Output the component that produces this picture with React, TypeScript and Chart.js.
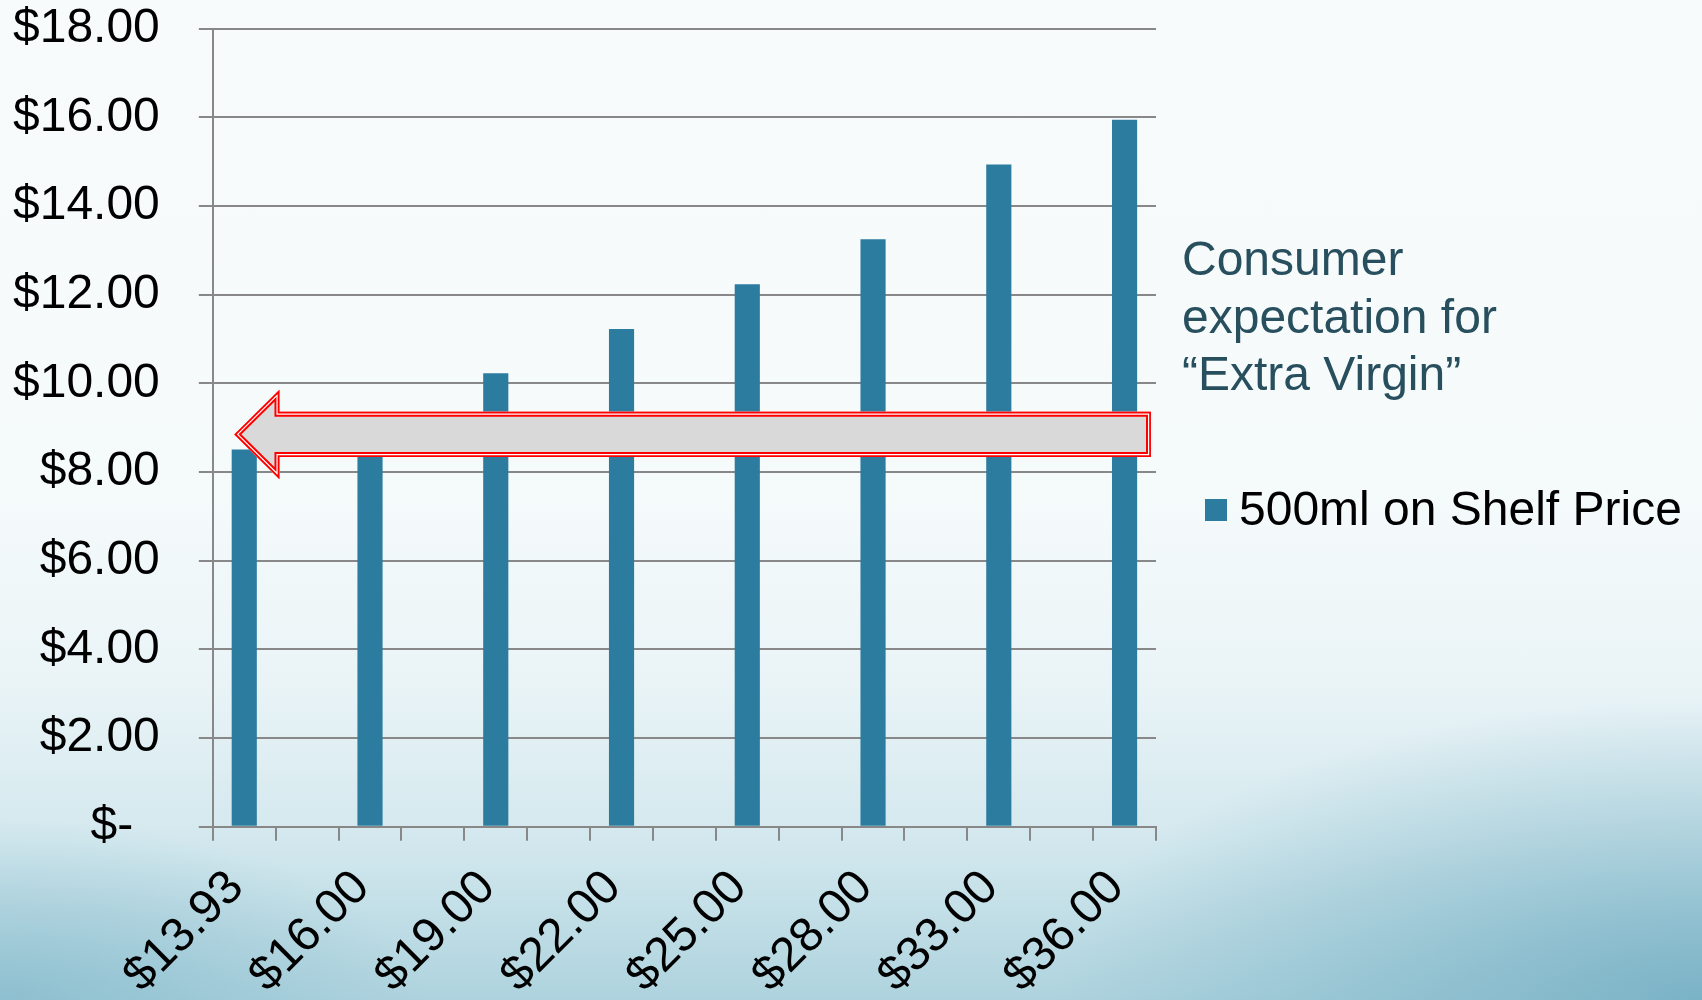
import React, { useEffect, useRef } from "react";
import { Chart, registerables } from "chart.js";

Chart.register(...registerables);

// ---- data ----
const categories = [
  "$13.93", "", "$16.00", "", "$19.00", "", "$22.00", "", "$25.00", "", "$28.00", "", "$33.00", "", "$36.00",
];
const shelfPrice = [
  8.51, null, 9.2, null, 10.23, null, 11.23, null, 12.24, null, 13.25, null, 14.94, null, 15.95,
];
const seriesName = "500ml on Shelf Price";
const noteLines = ["Consumer", "expectation for", "\u201CExtra Virgin\u201D"];
const yMin = 0;
const yMax = 18;
const yStep = 2;

// arrow annotation (category index / dollar units)
const arrowTipIndex = -0.16;
const arrowHeadIndex = 0.56;
const arrowEndIndex = 14.42;
const arrowCenterValue = 8.85;
const arrowBodyHalf = 0.51;
const arrowHeadHalf = 1.01;

const BAR_COLOR = "#2c7ca0";
const GRID_COLOR = "#888888";
const FONT = "'Liberation Sans', Arial, Helvetica, sans-serif";
const Y_TICK_PAD = 39;
const X_TICK_PAD = 19;
const X_AXIS_HEIGHT = 170.3;

const overlayPlugin = {
  id: "overlayPlugin",
  afterDatasetsDraw(chart: any) {
    const { ctx } = chart;
    const xs = chart.scales.x;
    const ys = chart.scales.y;
    const px = (i: number) => xs.getPixelForValue(i);
    const py = (v: number) => ys.getPixelForValue(v);
    ctx.save();
    ctx.beginPath();
    ctx.moveTo(px(arrowTipIndex), py(arrowCenterValue));
    ctx.lineTo(px(arrowHeadIndex), py(arrowCenterValue + arrowHeadHalf));
    ctx.lineTo(px(arrowHeadIndex), py(arrowCenterValue + arrowBodyHalf));
    ctx.lineTo(px(arrowEndIndex), py(arrowCenterValue + arrowBodyHalf));
    ctx.lineTo(px(arrowEndIndex), py(arrowCenterValue - arrowBodyHalf));
    ctx.lineTo(px(arrowHeadIndex), py(arrowCenterValue - arrowBodyHalf));
    ctx.lineTo(px(arrowHeadIndex), py(arrowCenterValue - arrowHeadHalf));
    ctx.closePath();
    ctx.fillStyle = "#d9d9d9";
    ctx.fill();
    ctx.clip();
    ctx.lineJoin = "miter";
    ctx.miterLimit = 10;
    ctx.strokeStyle = "#ff0000";
    ctx.lineWidth = 10;
    ctx.stroke();
    ctx.strokeStyle = "#ffffff";
    ctx.lineWidth = 6;
    ctx.stroke();
    ctx.strokeStyle = "#ff0000";
    ctx.lineWidth = 3.6;
    ctx.stroke();
    ctx.restore();
  },
  afterDraw(chart: any) {
    const { ctx, chartArea } = chart;
    const r = chartArea.right;
    ctx.save();
    ctx.font = `48px ${FONT}`;
    ctx.textAlign = "left";
    ctx.textBaseline = "alphabetic";
    ctx.fillStyle = "#284f5e";
    noteLines.forEach((line, i) => {
      ctx.fillText(line, r + 26, 275 + i * 57.6);
    });
    ctx.fillStyle = BAR_COLOR;
    ctx.fillRect(r + 49, 499, 22, 22);
    ctx.fillStyle = "#000000";
    ctx.fillText(seriesName, r + 83, 525);
    ctx.restore();
  },
};

export default function App() {
  const canvasRef = useRef<HTMLCanvasElement | null>(null);

  useEffect(() => {
    document.body.style.margin = "0";
    const canvas = canvasRef.current;
    if (!canvas) return;
    const chart = new Chart(canvas, {
      type: "bar",
      data: {
        labels: categories,
        datasets: [
          {
            label: seriesName,
            data: shelfPrice as any,
            backgroundColor: BAR_COLOR,
            borderWidth: 0,
            barPercentage: 0.4,
            categoryPercentage: 1,
          },
        ],
      },
      options: {
        animation: false,
        responsive: true,
        maintainAspectRatio: false,
        layout: { padding: { left: 13, right: 546, top: 0, bottom: 3 } },
        plugins: {
          legend: { display: false },
          tooltip: { enabled: false },
        },
        scales: {
          x: {
            offset: true,
            grid: {
              display: true,
              offset: true,
              drawOnChartArea: false,
              drawTicks: true,
              tickLength: 14,
              color: GRID_COLOR,
              lineWidth: 2,
            },
            border: { display: true, color: GRID_COLOR, width: 2 },
            ticks: {
              autoSkip: false,
              minRotation: 45,
              maxRotation: 45,
              padding: X_TICK_PAD,
              labelOffset: -8,
              color: "#000000",
              font: { family: FONT, size: 48 },
            },
            afterFit: (scale: any) => {
              // keep the plot's bottom edge where the reference has it
              scale.height = X_AXIS_HEIGHT;
            },
          },
          y: {
            min: yMin,
            max: yMax,
            grid: {
              color: GRID_COLOR,
              lineWidth: 2,
              tickLength: 14,
              drawTicks: true,
            },
            border: { display: true, color: GRID_COLOR, width: 2 },
            ticks: {
              stepSize: yStep,
              padding: Y_TICK_PAD,
              color: "#000000",
              font: { family: FONT, size: 48 },
              callback: (v: any) => (Number(v) === 0 ? "$-  " : "$" + Number(v).toFixed(2)),
            },
            afterFit: (scale: any) => {
              scale.width -= Y_TICK_PAD;
              scale.paddingTop -= Y_TICK_PAD;
              scale.paddingBottom -= Y_TICK_PAD;
            },
          },
        },
      },
      plugins: [overlayPlugin],
    });
    return () => chart.destroy();
  }, []);

  return (
    <div
      style={{
        position: "fixed",
        left: 0,
        top: 0,
        width: 1702,
        height: 1000,
        background:
          "radial-gradient(ellipse 38% 30% at 100% 100%, rgba(105,168,190,0.75), rgba(105,168,190,0) 100%)," +
          "radial-gradient(ellipse 25% 18% at 0% 100%, rgba(120,178,198,0.6), rgba(120,178,198,0) 100%)," +
          "linear-gradient(180deg, #f8fbfc 0%, #f5fafb 50%, #eaf4f7 68%, #d3e8ee 84%, #aed3de 100%)",
      }}
    >
      <canvas ref={canvasRef} style={{ display: "block" }} />
    </div>
  );
}
